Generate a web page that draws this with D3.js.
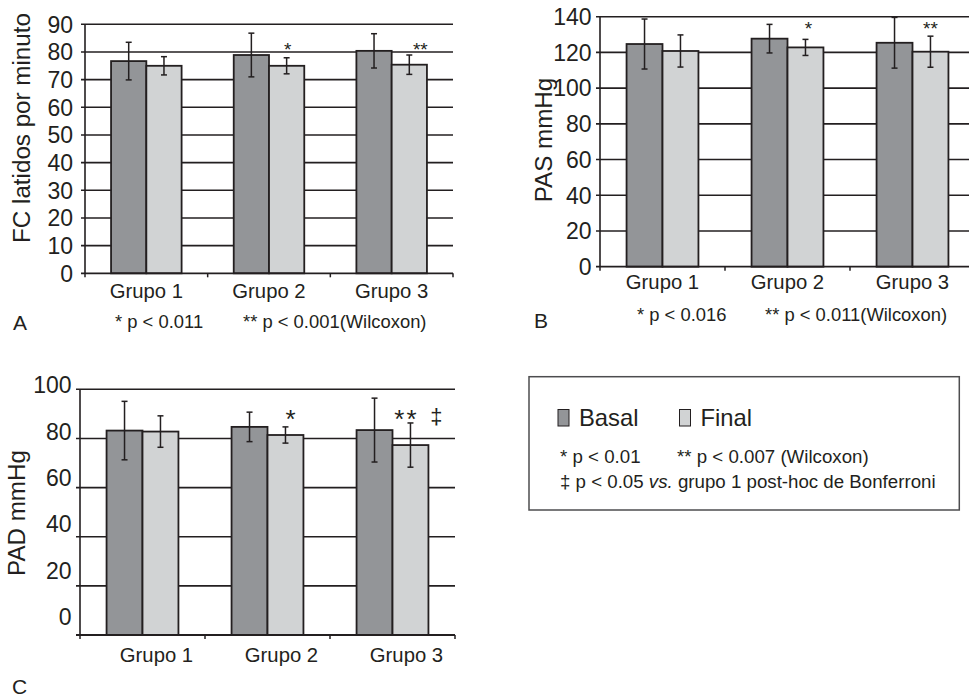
<!DOCTYPE html>
<html><head><meta charset="utf-8">
<script src="https://cdn.jsdelivr.net/npm/d3@7"></script>
<style>
html,body{margin:0;padding:0;background:#fff;}
svg{display:block;font-family:"Liberation Sans",Arial,Helvetica,sans-serif;}
</style></head>
<body><svg id="chart" width="969" height="699"></svg>
<script>
// ---------- data ----------
const groups = ["Grupo 1", "Grupo 2", "Grupo 3"];
const seriesNames = ["Basal", "Final"];

const fcBasal = [76.7, 78.9, 80.4];
const fcBasalSD = [6.8, 7.9, 6.2];
const fcFinal = [75.0, 75.0, 75.4];
const fcFinalSD = [3.3, 2.9, 3.5];
const fcMarks = ["", "*", "**"];
const fcTicks = [0, 10, 20, 30, 40, 50, 60, 70, 80, 90];

const pasBasal = [124.7, 127.7, 125.4];
const pasBasalSD = [14.0, 8.0, 14.2];
const pasFinal = [120.8, 122.8, 120.4];
const pasFinalSD = [9.0, 4.5, 8.7];
const pasMarks = ["", "*", "**"];
const pasTicks = [0, 20, 40, 60, 80, 100, 120, 140];

const padBasal = [83.2, 84.7, 83.4];
const padBasalSD = [11.9, 6.0, 13.0];
const padFinal = [82.8, 81.4, 77.3];
const padFinalSD = [6.4, 3.3, 9.0];
const padMarks = ["", "*", "**"];
const padTicks = [0, 20, 40, 60, 80, 100];

const colors = {Basal: "#939598", Final: "#d1d3d4"};
const ink = "#231f20";

const svg = d3.select("#chart");

function panel(cfg) {
  const g = svg.append("g");
  const y = d3.scaleLinear().domain([0, cfg.max]).range([cfg.bottom, cfg.top]);
  const x0 = d3.scaleBand().domain(groups).range([cfg.left, cfg.right]);
  const x1 = d3.scaleBand().domain(seriesNames).range([0, x0.bandwidth()]).paddingOuter(0.739);
  const rows = groups.map((gname, i) => ({
    group: gname,
    bars: [
      {s: "Basal", v: cfg.basal[i], sd: cfg.basalSD[i]},
      {s: "Final", v: cfg.final[i], sd: cfg.finalSD[i]}
    ],
    mark: cfg.marks[i]
  }));

  // gridlines
  g.selectAll("line.grid").data(cfg.ticks.filter(t => t > 0)).join("line")
    .attr("x1", cfg.left - 4).attr("x2", cfg.right)
    .attr("y1", d => y(d)).attr("y2", d => y(d))
    .attr("stroke", ink).attr("stroke-width", 1.6);

  // bars
  const gg = g.selectAll("g.grp").data(rows).join("g")
    .attr("transform", d => `translate(${x0(d.group)},0)`);
  gg.selectAll("rect").data(d => d.bars).join("rect")
    .attr("x", d => x1(d.s)).attr("width", x1.bandwidth())
    .attr("y", d => y(d.v)).attr("height", d => y(0) - y(d.v))
    .attr("fill", d => colors[d.s]).attr("stroke", ink).attr("stroke-width", 1.8);
  // error bars
  const eb = gg.selectAll("g.eb").data(d => d.bars).join("g");
  eb.append("line")
    .attr("x1", d => x1(d.s) + x1.bandwidth() / 2).attr("x2", d => x1(d.s) + x1.bandwidth() / 2)
    .attr("y1", d => y(d.v + d.sd)).attr("y2", d => y(d.v - d.sd))
    .attr("stroke", ink).attr("stroke-width", 1.5);
  [1, -1].forEach(sgn => {
    eb.append("line")
      .attr("x1", d => x1(d.s) + x1.bandwidth() / 2 - 3).attr("x2", d => x1(d.s) + x1.bandwidth() / 2 + 3)
      .attr("y1", d => y(d.v + sgn * d.sd)).attr("y2", d => y(d.v + sgn * d.sd))
      .attr("stroke", ink).attr("stroke-width", 1.5);
  });
  // significance marks
  gg.append("text")
    .attr("x", d => x1("Final") + x1.bandwidth() / 2 + cfg.markDx(d))
    .attr("y", cfg.markY)
    .attr("text-anchor", "middle")
    .attr("font-size", cfg.markSize)
    .attr("letter-spacing", cfg.markSpacing || 0)
    .attr("fill", ink)
    .text(d => d.mark);

  // y axis line
  g.append("line").attr("x1", cfg.left).attr("x2", cfg.left)
    .attr("y1", y(cfg.max)).attr("y2", y(0)).attr("stroke", ink).attr("stroke-width", 1.6);
  // x axis line + ticks
  g.append("line").attr("x1", cfg.left - 4).attr("x2", cfg.right)
    .attr("y1", y(0)).attr("y2", y(0)).attr("stroke", ink).attr("stroke-width", 1.8);
  const bounds = groups.map(d => x0(d)).concat([x0(groups[groups.length - 1]) + x0.bandwidth()]);
  g.selectAll("line.xt").data(bounds).join("line")
    .attr("x1", d => d).attr("x2", d => d)
    .attr("y1", y(0)).attr("y2", y(0) + 4).attr("stroke", ink).attr("stroke-width", 1.5);

  // y tick labels
  const ly = cfg.labelScale ? cfg.labelScale : y;
  g.selectAll("text.yl").data(cfg.ticks).join("text")
    .attr("x", cfg.left - cfg.labelPad).attr("y", d => ly(d))
    .attr("dy", "0.36em").attr("text-anchor", "end")
    .attr("font-size", 23).attr("fill", ink).text(d => d);

  // x labels
  g.selectAll("text.xl").data(groups).join("text")
    .attr("x", d => x0(d) + x0.bandwidth() / 2 + (cfg.xLabelDx || 0))
    .attr("y", y(0) + cfg.xLabelDy)
    .attr("text-anchor", "middle").attr("font-size", 20.3).attr("fill", ink).text(d => d);

  // y title
  g.append("text")
    .attr("transform", `translate(${cfg.titleX},${cfg.titleY}) rotate(-90)`)
    .attr("text-anchor", "middle").attr("font-size", 24.2).attr("fill", ink).text(cfg.title);

  // panel letter
  g.append("text").attr("x", cfg.letterX).attr("y", cfg.letterY)
    .attr("font-size", 21).attr("fill", ink).text(cfg.letter);

  // footnotes
  (cfg.notes || []).forEach(n => {
    g.append("text").attr("x", n.x).attr("y", n.y).attr("font-size", 18.4).attr("fill", ink).text(n.t);
  });
  return {x0, x1, y};
}

// Panel A
panel({
  left: 85, right: 453, top: 24.3, bottom: 273.3, max: 90,
  ticks: fcTicks, basal: fcBasal, basalSD: fcBasalSD, final: fcFinal, finalSD: fcFinalSD,
  marks: fcMarks, markY: 56, markSize: 19, markDx: d => d.mark === "**" ? 11 : 1,
  labelPad: 12, xLabelDy: 24.4,
  title: "FC latidos por minuto", titleX: 30, titleY: 128,
  letter: "A", letterX: 13, letterY: 329.5,
  notes: [{t: "* p < 0.011", x: 115, y: 328}, {t: "** p < 0.001(Wilcoxon)", x: 243, y: 328}]
});

// Panel B
panel({
  left: 600, right: 975, top: 16.7, bottom: 266.7, max: 140,
  ticks: pasTicks, basal: pasBasal, basalSD: pasBasalSD, final: pasFinal, finalSD: pasFinalSD,
  marks: pasMarks, markY: 35, markSize: 19, markDx: d => d.mark === "**" ? 0 : 3,
  labelPad: 8.5, xLabelDy: 22.6,
  title: "PAS mmHg", titleX: 552, titleY: 140,
  letter: "B", letterX: 534, letterY: 328,
  notes: [{t: "* p < 0.016", x: 637, y: 320.5}, {t: "** p < 0.011(Wilcoxon)", x: 765, y: 320.5}]
});

// Panel C
const padLabel = d3.scaleLinear().domain([0, 100]).range([616.7, 385]);
const cScales = panel({
  left: 80, right: 455, top: 389.3, bottom: 635, max: 100,
  ticks: padTicks, basal: padBasal, basalSD: padBasalSD, final: padFinal, finalSD: padFinalSD,
  marks: padMarks, markY: 428, markSize: 26, markSpacing: 2, markDx: d => d.mark === "**" ? -4 : 6,
  labelPad: 8.5, labelScale: padLabel, xLabelDy: 26.7, xLabelDx: 14,
  title: "PAD mmHg", titleX: 25, titleY: 513,
  letter: "C", letterX: 12, letterY: 694,
  notes: []
});
// double dagger next to Grupo 3 final
svg.append("text")
  .attr("x", cScales.x0("Grupo 3") + cScales.x1("Final") + cScales.x1.bandwidth() / 2 + 26)
  .attr("y", 424).attr("text-anchor", "middle").attr("font-size", 22).attr("fill", ink).text("‡");

// Legend box
const lg = svg.append("g");
lg.append("rect").attr("x", 529).attr("y", 376.7).attr("width", 430.3).attr("height", 133.3)
  .attr("fill", "#fff").attr("stroke", "#4d4d4f").attr("stroke-width", 1.5);
const legendItems = [{s: "Basal", x: 558}, {s: "Final", x: 679.5}];
legendItems.forEach(it => {
  lg.append("rect").attr("x", it.x).attr("y", 409.5).attr("width", 11).attr("height", 16.5)
    .attr("fill", colors[it.s]).attr("stroke", ink).attr("stroke-width", 1);
  lg.append("text").attr("x", it.x + 21).attr("y", 426).attr("font-size", 23.8).attr("fill", ink).text(it.s);
});
lg.append("text").attr("x", 560).attr("y", 463).attr("font-size", 18.7).attr("fill", ink).text("* p < 0.01");
lg.append("text").attr("x", 677).attr("y", 463).attr("font-size", 18.7).attr("fill", ink).text("** p < 0.007 (Wilcoxon)");
const l3 = lg.append("text").attr("x", 560).attr("y", 488).attr("font-size", 18.7).attr("fill", ink);
l3.append("tspan").text("‡ p < 0.05 ");
l3.append("tspan").attr("font-style", "italic").text("vs.");
l3.append("tspan").text(" grupo 1 post-hoc de Bonferroni");
</script>
</body></html>
